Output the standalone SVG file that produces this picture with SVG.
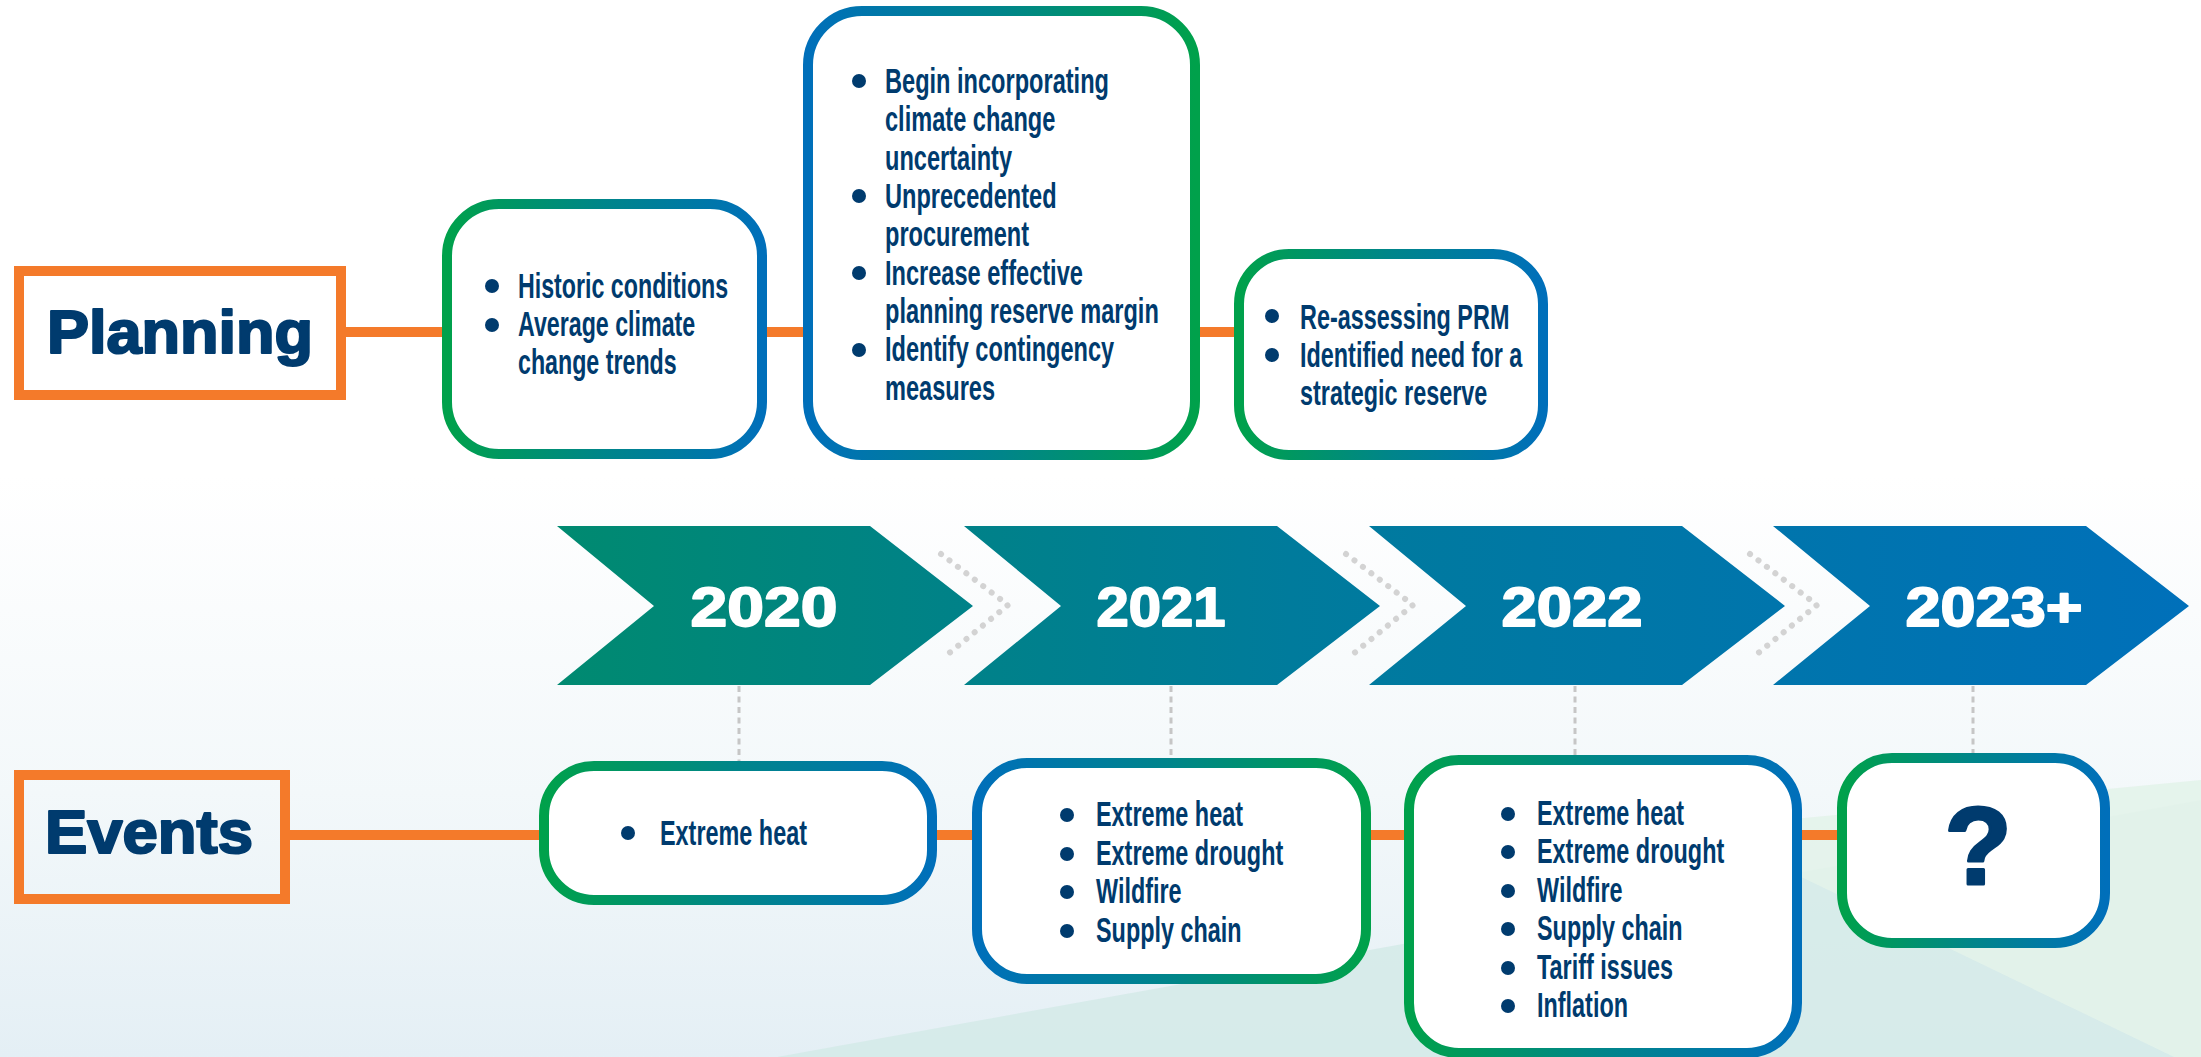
<svg xmlns="http://www.w3.org/2000/svg" width="2201" height="1057" viewBox="0 0 2201 1057">
  <defs>
    <linearGradient id="bg" x1="0" y1="0" x2="0" y2="1057" gradientUnits="userSpaceOnUse">
      <stop offset="0" stop-color="#ffffff"/>
      <stop offset="0.45" stop-color="#ffffff"/>
      <stop offset="0.75" stop-color="#f3f8fa"/>
      <stop offset="1" stop-color="#e4eff5"/>
    </linearGradient>
    <linearGradient id="gb" x1="0" y1="0" x2="1" y2="0">
      <stop offset="0" stop-color="#00a14b"/>
      <stop offset="0.5" stop-color="#00858a"/>
      <stop offset="1" stop-color="#006fba"/>
    </linearGradient>
    <linearGradient id="bgr" x1="0" y1="0" x2="1" y2="0">
      <stop offset="0" stop-color="#006fba"/>
      <stop offset="0.5" stop-color="#00858a"/>
      <stop offset="1" stop-color="#00a14b"/>
    </linearGradient>
    <linearGradient id="chev" x1="557" y1="0" x2="2189" y2="0" gradientUnits="userSpaceOnUse">
      <stop offset="0" stop-color="#008a70"/>
      <stop offset="0.45" stop-color="#007b9c"/>
      <stop offset="1" stop-color="#0070ba"/>
    </linearGradient>
    <style>
      .head { fill: none; stroke: #f47a2a; stroke-width: 10; }
      .htxt { font-family: "Liberation Sans", Arial, sans-serif; font-weight: bold; font-size: 61px; fill: #003b6e; stroke: #003b6e; stroke-width: 2.2; stroke-linejoin: round; }
      .node { fill: #ffffff; stroke-width: 10; }
      .gb { stroke: url(#gb); }
      .bgr { stroke: url(#bgr); }
      .t { font-family: "Liberation Sans", Arial, sans-serif; font-weight: bold; font-size: 36px; fill: #003b6e; }
      .dot { fill: #003b6e; }
      .year { font-family: "Liberation Sans", Arial, sans-serif; font-weight: bold; font-size: 55px; fill: #ffffff; stroke: #ffffff; stroke-width: 1.8; stroke-linejoin: round; text-anchor: middle; }
      .q { font-family: "Liberation Sans", Arial, sans-serif; font-weight: bold; font-size: 110px; fill: #003b6e; stroke: #003b6e; stroke-width: 3; stroke-linejoin: round; text-anchor: middle; }
      .orange { stroke: #f47a2a; stroke-width: 10; fill: none; }
      .gapdots { fill: none; stroke: #d3d3d3; stroke-width: 6; stroke-linecap: round; stroke-dasharray: 0.1 10.5; }
      .vdots { fill: none; stroke: #c6c6c6; stroke-width: 3; stroke-dasharray: 6 4.5; }
    </style>
  </defs>

  <!-- background -->
  <rect x="0" y="0" width="2201" height="1057" fill="url(#bg)"/>
  <polygon points="777,1057 2201,800 2201,1057" fill="#d4eae7" opacity="0.85"/>
  <polygon points="1700,828 2201,780 2201,1057 2174,1057" fill="#e3f3ea" opacity="0.9"/>

  <!-- connectors -->
  <g id="connectors">
    <line class="orange" x1="346" y1="332" x2="1236" y2="332"/>
    <line class="orange" x1="290" y1="835" x2="1840" y2="835"/>
    <line class="vdots" x1="739" y1="686" x2="739" y2="762"/>
    <line class="vdots" x1="1171" y1="686" x2="1171" y2="759"/>
    <line class="vdots" x1="1575" y1="686" x2="1575" y2="756"/>
    <line class="vdots" x1="1973" y1="686" x2="1973" y2="754"/>
    <polyline class="gapdots" points="941,554 1008,605 948,654"/>
    <polyline class="gapdots" points="1346,554 1413,605 1353,654"/>
    <polyline class="gapdots" points="1750,554 1817,605 1757,654"/>
  </g>

  <!-- headings -->
  <g id="planning">
    <rect class="head" x="19" y="271" width="322" height="124"/>
    <text class="htxt" x="47" y="353" textLength="266" lengthAdjust="spacingAndGlyphs">Planning</text>
  </g>
  <g id="events">
    <rect class="head" x="19" y="775" width="266" height="124"/>
    <text class="htxt" x="45" y="853" textLength="208" lengthAdjust="spacingAndGlyphs">Events</text>
  </g>

  <!-- year chevrons -->
  <g id="y2020">
    <polygon points="557,526 870,526 973,606 870,685 557,685 654,606" fill="url(#chev)"/>
    <text class="year" x="764" y="626" textLength="147" lengthAdjust="spacingAndGlyphs">2020</text>
  </g>
  <g id="y2021">
    <polygon points="964,526 1277,526 1380,606 1277,685 964,685 1061,606" fill="url(#chev)"/>
    <text class="year" x="1161" y="626" textLength="129" lengthAdjust="spacingAndGlyphs">2021</text>
  </g>
  <g id="y2022">
    <polygon points="1369,526 1682,526 1785,606 1682,685 1369,685 1466,606" fill="url(#chev)"/>
    <text class="year" x="1572" y="626" textLength="141" lengthAdjust="spacingAndGlyphs">2022</text>
  </g>
  <g id="y2023">
    <polygon points="1773,526 2086,526 2189,606 2086,685 1773,685 1870,606" fill="url(#chev)"/>
    <text class="year" x="1994" y="626" textLength="177" lengthAdjust="spacingAndGlyphs">2023+</text>
  </g>

  <!-- planning nodes -->
  <g id="plan2020">
    <rect class="node gb" x="447" y="204" width="315" height="250" rx="52"/>
    <circle class="dot" cx="492" cy="286" r="7"/>
    <circle class="dot" cx="492" cy="325" r="7"/>
    <g transform="translate(518,0) scale(0.645,1)">
      <text class="t" x="0" y="298">Historic conditions</text>
      <text class="t" x="0" y="336">Average climate</text>
      <text class="t" x="0" y="374">change trends</text>
    </g>
  </g>
  <g id="plan2021">
    <rect class="node bgr" x="808" y="11" width="387" height="444" rx="54"/>
    <circle class="dot" cx="859" cy="81" r="7"/>
    <circle class="dot" cx="859" cy="196" r="7"/>
    <circle class="dot" cx="859" cy="273" r="7"/>
    <circle class="dot" cx="859" cy="350" r="7"/>
    <g transform="translate(885,0) scale(0.655,1)">
      <text class="t" x="0" y="93">Begin incorporating</text>
      <text class="t" x="0" y="131">climate change</text>
      <text class="t" x="0" y="170">uncertainty</text>
      <text class="t" x="0" y="208">Unprecedented</text>
      <text class="t" x="0" y="246">procurement</text>
      <text class="t" x="0" y="285">Increase effective</text>
      <text class="t" x="0" y="323">planning reserve margin</text>
      <text class="t" x="0" y="361">Identify contingency</text>
      <text class="t" x="0" y="400">measures</text>
    </g>
  </g>
  <g id="plan2022">
    <rect class="node gb" x="1239" y="254" width="304" height="201" rx="50"/>
    <circle class="dot" cx="1272" cy="316" r="7"/>
    <circle class="dot" cx="1272" cy="355" r="7"/>
    <g transform="translate(1300,0) scale(0.65,1)">
      <text class="t" x="0" y="329">Re-assessing PRM</text>
      <text class="t" x="0" y="367">Identified need for a</text>
      <text class="t" x="0" y="405">strategic reserve</text>
    </g>
  </g>

  <!-- event nodes -->
  <g id="ev2020">
    <rect class="node gb" x="544" y="766" width="388" height="134" rx="50"/>
    <circle class="dot" cx="628" cy="833" r="7"/>
    <g transform="translate(660,0) scale(0.65,1)">
      <text class="t" x="0" y="845">Extreme heat</text>
    </g>
  </g>
  <g id="ev2021">
    <rect class="node bgr" x="977" y="763" width="389" height="216" rx="50"/>
    <circle class="dot" cx="1067" cy="815" r="7"/>
    <circle class="dot" cx="1067" cy="854" r="7"/>
    <circle class="dot" cx="1067" cy="892" r="7"/>
    <circle class="dot" cx="1067" cy="931" r="7"/>
    <g transform="translate(1096,0) scale(0.65,1)">
      <text class="t" x="0" y="826">Extreme heat</text>
      <text class="t" x="0" y="865">Extreme drought</text>
      <text class="t" x="0" y="903">Wildfire</text>
      <text class="t" x="0" y="942">Supply chain</text>
    </g>
  </g>
  <g id="ev2022">
    <rect class="node gb" x="1409" y="760" width="388" height="293" rx="50"/>
    <circle class="dot" cx="1508" cy="814" r="7"/>
    <circle class="dot" cx="1508" cy="852" r="7"/>
    <circle class="dot" cx="1508" cy="891" r="7"/>
    <circle class="dot" cx="1508" cy="929" r="7"/>
    <circle class="dot" cx="1508" cy="968" r="7"/>
    <circle class="dot" cx="1508" cy="1006" r="7"/>
    <g transform="translate(1537,0) scale(0.65,1)">
      <text class="t" x="0" y="825">Extreme heat</text>
      <text class="t" x="0" y="863">Extreme drought</text>
      <text class="t" x="0" y="902">Wildfire</text>
      <text class="t" x="0" y="940">Supply chain</text>
      <text class="t" x="0" y="979">Tariff issues</text>
      <text class="t" x="0" y="1017">Inflation</text>
    </g>
  </g>
  <g id="ev2023">
    <rect class="node gb" x="1842" y="758" width="263" height="185" rx="50"/>
    <text class="q" x="1978" y="884">?</text>
  </g>
</svg>
